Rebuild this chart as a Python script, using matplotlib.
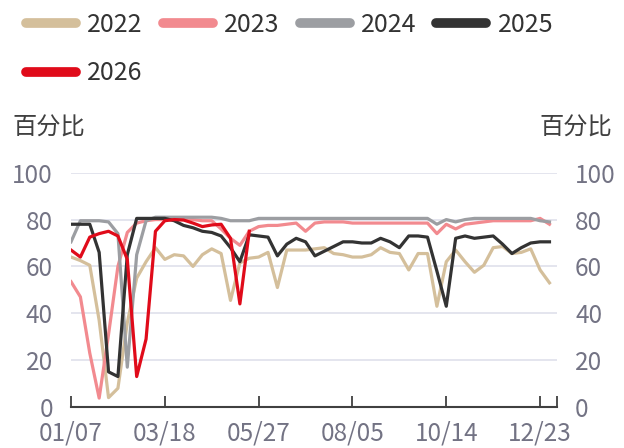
import matplotlib
matplotlib.use('Agg')
import matplotlib.pyplot as plt

plt.rcParams['font.family'] = ['Noto Sans CJK SC', 'DejaVu Sans']

# weekly capacity utilisation, week 0 = 01/07
weeks = list(range(52))
years = ['2022', '2023', '2024', '2025', '2026']
colors = ['#d4bf9b', '#f28a8f', '#9c9ea2', '#333333', '#e00b1a']

y2022 = [64, 62.5, 60.5, 37, 4, 8, 36, 55, 62, 68,
         63, 65, 64.5, 60, 65, 67.5, 65.5, 45.5, 61.5, 63.5,
         64, 66, 51, 67, 67, 67, 67.5, 68, 65.5, 65,
         64, 64, 65, 68, 66, 65.5, 58.5, 65.5, 65.5, 43,
         62, 67, 62, 57.5, 60.5, 68, 68.5, 65.5, 66, 67.5,
         58.5, 53]
y2023 = [53.5, 47, 23, 3.8, 31, 60, 74.5, 78.5, 79.5, 80,
         80, 80, 80, 80, 79.5, 79.5, 76, 72, 69, 75,
         77, 77.5, 77.5, 78, 78.5, 75, 78.5, 79, 79, 79,
         78.5, 78.5, 78.5, 78.5, 78.5, 78.5, 78.5, 78.5, 78.5, 74,
         78, 76, 78, 78.5, 79, 79.5, 79.5, 79.5, 79.5, 79.5,
         80.5, 78]
y2024 = [70.5, 79.5, 79.5, 79.5, 79, 74, 17, 65, 79.5, 81,
         81, 81, 81, 81, 81, 81, 80.5, 79.5, 79.5, 79.5,
         80.5, 80.5, 80.5, 80.5, 80.5, 80.5, 80.5, 80.5, 80.5, 80.5,
         80.5, 80.5, 80.5, 80.5, 80.5, 80.5, 80.5, 80.5, 80.5, 78,
         80, 79, 80, 80.5, 80.5, 80.5, 80.5, 80.5, 80.5, 80.5,
         79.5, 79]
y2025 = [78, 78, 78, 66, 15, 13, 65, 80.5, 80.5, 80.5,
         80.5, 79.5, 77.5, 76.5, 75, 74.5, 73, 68, 62, 73.5,
         73, 72.5, 64.5, 69.5, 72, 70.5, 64.5, 66.5, 68.5, 70.5,
         70.5, 70, 70, 72, 70.5, 68, 73, 73, 72.5, 58,
         43, 72, 73, 72, 72.5, 73, 69.5, 65.5, 68, 70,
         70.5, 70.5]
y2026 = [67, 64, 72.5, 74, 75, 73, 63, 13, 29, 75,
         79.5, 80, 79.8, 78.5, 77, 77.7, 78, 72, 44, 75]

xtick_pos = [0, 10, 20, 30, 40, 50]
xtick_labels = ['01/07', '03/18', '05/27', '08/05', '10/14', '12/23']
yticks = [0, 20, 40, 60, 80, 100]

lab_col = '#737384'

fig = plt.figure(figsize=(6.24, 4.48), dpi=100)
ax = fig.add_axes([0.1138, 0.0915, 0.7788, 0.523])

series = [y2022, y2023, y2024, y2025, y2026]
lines = []
for name, vals, c in zip(years, series, colors):
    ln, = ax.plot(weeks[:len(vals)], vals, color=c, lw=2.3,
                  solid_joinstyle='round', label=name)
    lines.append(ln)

ax.set_xlim(0, 51.8)
ax.set_ylim(0, 100)
ax.set_yticks(yticks)
ax.set_xticks(xtick_pos + [51.8])
ax.set_xticklabels(xtick_labels + [''])
ax.grid(axis='y', color='#dcdeea', lw=1.1)
ax.set_axisbelow(True)
for s in ['left', 'right', 'top']:
    ax.spines[s].set_visible(False)
ax.spines['bottom'].set_color('#404040')
ax.spines['bottom'].set_linewidth(1.5)
ax.tick_params(axis='x', direction='in', length=8, width=1.3, color='#404040',
               pad=10, labelsize=17.5, labelcolor=lab_col)
ax.tick_params(axis='y', length=0, pad=13, labelsize=17.5, labelcolor=lab_col,
               labelleft=True, labelright=True)

fig.text(12/624, 1 - 128/448, '百分比', ha='left', va='center', fontsize=17.5, color='#404040')
fig.text(612/624, 1 - 128/448, '百分比', ha='right', va='center', fontsize=17.5, color='#404040')

# column-wise fill: put 2026 under 2022
order = [0, 4, 1, 2, 3]
leg = fig.legend([lines[i] for i in order], [years[i] for i in order],
                 loc='upper left', bbox_to_anchor=(26/624, 1 - 12/448), ncol=4,
                 frameon=False, fontsize=18, handlelength=2.0, handletextpad=0.45,
                 columnspacing=0.8, labelspacing=0.9, borderpad=0, borderaxespad=0)
for t in leg.get_texts():
    t.set_color('#333333')
for h in leg.legend_handles:
    h.set_linewidth(7)
    h.set_solid_capstyle('round')

fig.savefig('out.png', dpi=100)
